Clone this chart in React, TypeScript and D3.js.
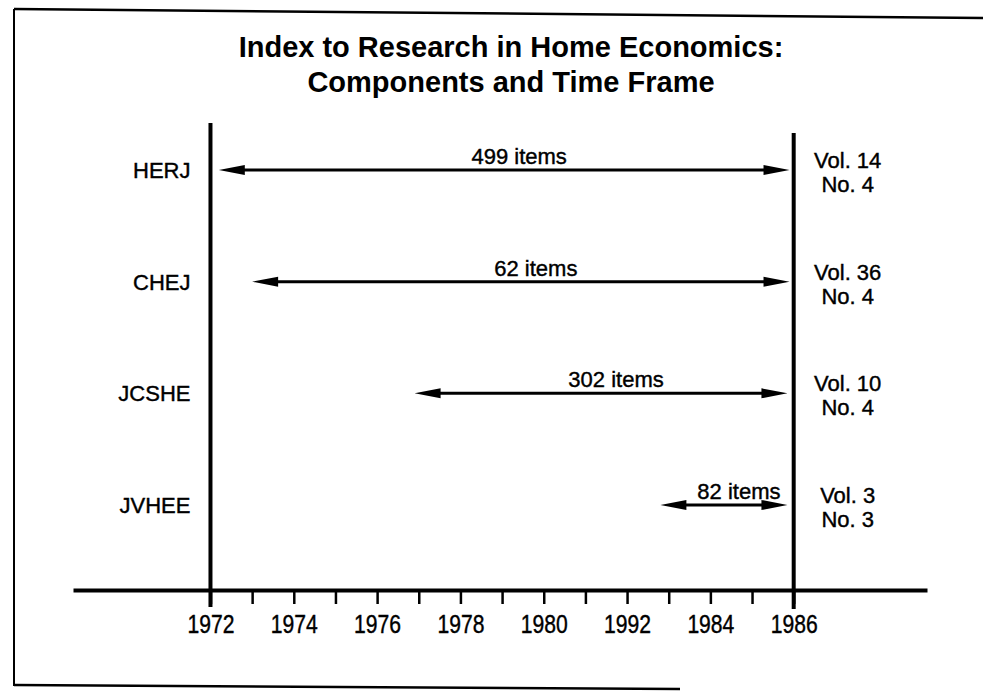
import React, { useEffect, useRef } from "react";
import * as d3 from "d3";

const journals = ["HERJ", "CHEJ", "JCSHE", "JVHEE"];
const startYears = [1972.2, 1973, 1976.9, 1982.8];
const endYears = [1985.9, 1985.9, 1985.85, 1985.85];
const itemCounts = [499, 62, 302, 82];
const volumes = ["Vol. 14", "Vol. 36", "Vol. 10", "Vol. 3"];
const issues = ["No. 4", "No. 4", "No. 4", "No. 3"];
const tickYears = d3.range(1972, 1987);
const tickLabels = ["1972", "1974", "1976", "1978", "1980", "1992", "1984", "1986"];
const titleLines = ["Index to Research in Home Economics:", "Components and Time Frame"];

const sizes = { width: 983, height: 694 };
const axisY = 590;
const font = "'Liberation Sans', Arial, Helvetica, sans-serif";

// axis line runs past both boundary years, so the domain is a bit wider
const x = d3.scaleLinear().domain([1968.7, 1989.2]).range([73, 927]);

const y = d3.scalePoint<string>().domain(journals).range([170, 505]);

const headLen = 26;
const headHalf = 5;

function arrowHeads(x0: number, x1: number, yy: number) {
  const left = `M${x0},${yy}L${x0 + headLen},${yy - headHalf}L${x0 + headLen},${yy + headHalf}Z`;
  const right = `M${x1},${yy}L${x1 - headLen},${yy - headHalf}L${x1 - headLen},${yy + headHalf}Z`;
  return left + right;
}

export default function App() {
  const axisRef = useRef<SVGGElement>(null);

  useEffect(() => {
    document.body.style.margin = "0";
    const g = d3.select(axisRef.current);
    g.selectAll("*").remove();
    g.call(
      d3.axisBottom(x)
        .tickValues(tickYears)
        .tickSize(14)
        .tickSizeOuter(0)
        .tickPadding(12)
        .tickFormat((d) => {
          const i = tickYears.indexOf(+d);
          return i % 2 === 0 ? tickLabels[i / 2] : "";
        })
    );
    g.select(".domain").attr("stroke", "#000").attr("stroke-width", 4);
    g.selectAll(".tick line").attr("stroke", "#000").attr("stroke-width", 2.5);
    // the scanned digits are tall and narrow
    g.selectAll(".tick text")
      .attr("fill", "#000")
      .attr("stroke", "#000")
      .attr("stroke-width", 0.4)
      .attr("font-size", 25)
      .attr("font-family", font)
      .attr("y", 25)
      .attr("textLength", (d: any) => (tickYears.indexOf(+d) % 2 === 0 ? 47 : null))
      .attr("lengthAdjust", "spacingAndGlyphs");
  }, []);

  return (
    <svg width={sizes.width} height={sizes.height} style={{ display: "block", background: "#fff" }}>
      {/* scanned page frame */}
      <g stroke="#000" fill="none">
        <line x1={14} y1={9} x2={983} y2={18} strokeWidth={2.5} />
        <line x1={14} y1={9} x2={14} y2={686} strokeWidth={2} />
        <line x1={14} y1={685} x2={680} y2={689} strokeWidth={2.5} />
      </g>

      <g fontFamily={font} fontWeight="bold" fontSize={29} textAnchor="middle" fill="#000">
        {titleLines.map((t, i) => (
          <text key={t} x={511} y={57 + i * 35}>{t}</text>
        ))}
      </g>

      <g ref={axisRef} transform={`translate(0,${axisY})`} />

      {/* boundary years */}
      <line x1={x(1972)} x2={x(1972)} y1={123} y2={607} stroke="#000" strokeWidth={4} />
      <line x1={x(1986)} x2={x(1986)} y1={133} y2={609} stroke="#000" strokeWidth={4} />

      <g fontFamily={font} fontSize={22} fill="#000" stroke="#000" strokeWidth={0.4}>
        {journals.map((j, i) => {
          const yy = y(j) as number;
          const x0 = x(startYears[i]);
          const x1 = x(endYears[i]);
          return (
            <g key={j}>
              <text x={x(1972) - 20} y={yy + 8} textAnchor="end">{j}</text>
              <line x1={x0 + 20} x2={x1 - 20} y1={yy} y2={yy} strokeWidth={3} />
              <path d={arrowHeads(x0, x1, yy)} strokeWidth={0} />
              <text x={(x0 + x1) / 2 + 15} y={yy - 6} textAnchor="middle">{itemCounts[i]} items</text>
              <text x={x(1986) + 54} y={yy - 2} textAnchor="middle">{volumes[i]}</text>
              <text x={x(1986) + 54} y={yy + 22} textAnchor="middle">{issues[i]}</text>
            </g>
          );
        })}
      </g>
    </svg>
  );
}
